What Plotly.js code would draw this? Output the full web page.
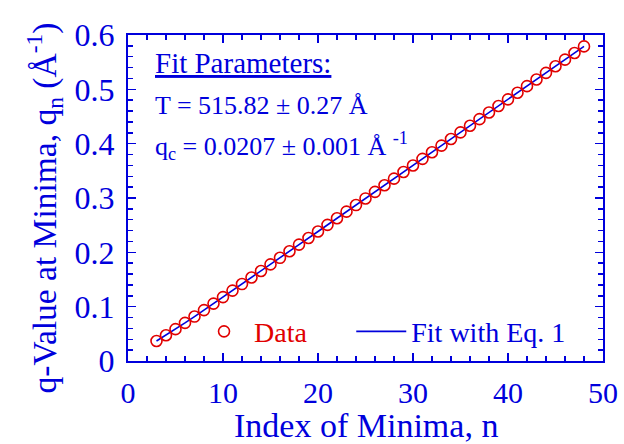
<!DOCTYPE html>
<html>
<head>
<meta charset="utf-8">
<script src="https://cdn.plot.ly/plotly-3.0.1.min.js"></script>
<style>html,body{margin:0;padding:0;background:#fff;}#chart{width:624px;height:444px;}</style>
</head>
<body>
<div id="chart"></div>
<script>
// Index of minima, n
var nIndex = [3,4,5,6,7,8,9,10,11,12,13,14,15,16,17,18,19,20,21,22,23,24,25,26,27,28,29,30,31,32,33,34,35,36,37,38,39,40,41,42,43,44,45,46,47,48];
// Measured q-values at minima (Å^-1)
var qData = [0.0368,0.0474,0.0586,0.0701,0.0818,0.0937,0.1056,0.1176,0.1296,0.1416,0.1537,0.1657,0.1778,0.1899,0.2020,0.2142,0.2263,0.2384,0.2506,0.2627,0.2749,0.2870,0.2992,0.3113,0.3235,0.3356,0.3478,0.3599,0.3721,0.3843,0.3964,0.4086,0.4208,0.4329,0.4451,0.4573,0.4694,0.4816,0.4938,0.5059,0.5181,0.5303,0.5424,0.5546,0.5668,0.5790];
// Fit with Eq. 1
var nFit = [3,4,5,6,7,8,9,10,12,14,16,18,20,25,30,35,40,45,48];
var qFit = [0.0368,0.0474,0.0586,0.0701,0.0818,0.0937,0.1056,0.1176,0.1416,0.1657,0.1899,0.2142,0.2384,0.2992,0.3599,0.4208,0.4816,0.5424,0.5790];

var blue = 'rgb(0,0,220)';
var red = 'rgb(225,0,0)';
var fontFam = 'Liberation Serif, Times New Roman, serif';

var traces = [
  {x: nFit, y: qFit, type: 'scatter', mode: 'lines', name: 'Fit with Eq. 1',
   line: {color: blue, width: 1.6}, legend: 'legend2'},
  {x: nIndex, y: qData, type: 'scatter', mode: 'markers', name: 'Data',
   marker: {symbol: 'circle-open', size: 11, color: red, line: {color: red, width: 1.6}}, legend: 'legend'}
];

var axisCommon = {
  showgrid: false, zeroline: false, showline: true, linecolor: blue, linewidth: 2,
  mirror: 'allticks', ticks: 'inside', ticklen: 8, tickwidth: 1.5, tickcolor: blue,
  tickfont: {family: fontFam, size: 32, color: blue}
};

var layout = {
  width: 624, height: 444,
  margin: {l: 128, r: 21, t: 35, b: 83},
  paper_bgcolor: '#fff', plot_bgcolor: '#fff',
  font: {family: fontFam, color: blue},
  xaxis: Object.assign({}, axisCommon, {
    range: [0, 50], dtick: 10, tick0: 0, ticklabelstandoff: 4,
    tickfont: {family: fontFam, size: 30, color: blue},
    minor: {dtick: 2, ticks: 'inside', ticklen: 5, tickwidth: 1.5, tickcolor: blue}
  }),
  yaxis: Object.assign({}, axisCommon, {
    range: [0, 0.6], dtick: 0.1, tick0: 0, tickformat: '.1~f', ticklabelstandoff: 5,
    minor: {dtick: 0.02, ticks: 'inside', ticklen: 5, tickwidth: 1.5, tickcolor: blue}
  }),
  showlegend: true,
  legend: {x: 0.139, y: 0.09, xanchor: 'left', yanchor: 'middle', bgcolor: 'rgba(0,0,0,0)', itemwidth: 50,
    font: {family: fontFam, size: 28, color: red}},
  legend2: {x: 0.47, y: 0.09, xanchor: 'left', yanchor: 'middle', bgcolor: 'rgba(0,0,0,0)', itemwidth: 50,
    font: {family: fontFam, size: 28, color: blue}},
  annotations: [
    {xref: 'paper', yref: 'paper', x: 0.052, y: 0.914, xanchor: 'left', yanchor: 'middle', showarrow: false,
     text: '<u>Fit Parameters:</u>', font: {family: fontFam, size: 29, color: blue}},
    {xref: 'paper', yref: 'paper', x: 0.052, y: 0.785, xanchor: 'left', yanchor: 'middle', showarrow: false,
     text: 'T = 515.82 ± 0.27 Å', font: {family: fontFam, size: 26, color: blue}},
    {xref: 'paper', yref: 'paper', x: 0.052, y: 0.66, xanchor: 'left', yanchor: 'middle', showarrow: false,
     text: 'q<sub>c</sub> = 0.0207 ± 0.001 Å <sup>-1</sup>', font: {family: fontFam, size: 26, color: blue}},
    {xref: 'paper', yref: 'paper', x: -0.176, y: 0.469, xanchor: 'center', yanchor: 'middle', showarrow: false,
     textangle: -90, text: 'q-Value at Minima, q<sub>n</sub> (Å<sup>-1</sup>)', font: {family: fontFam, size: 33.5, color: blue}},
    {xref: 'paper', yref: 'paper', x: 0.5, y: -0.262, xanchor: 'center', yanchor: 'bottom', showarrow: false,
     text: 'Index of Minima, n', font: {family: fontFam, size: 34, color: blue}}
  ]
};

Plotly.newPlot('chart', traces, layout, {displayModeBar: false, staticPlot: true});
</script>
</body>
</html>
